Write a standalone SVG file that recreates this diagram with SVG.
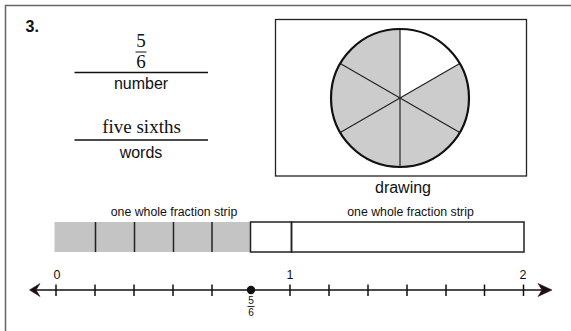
<svg xmlns="http://www.w3.org/2000/svg" width="571" height="331" viewBox="0 0 571 331">
<style>
.sans{font-family:"Liberation Sans",Arial,sans-serif;fill:#111}
.serif{font-family:"Liberation Serif","Times New Roman",serif;fill:#111}
.ln{stroke:#111;stroke-width:1.3;fill:none}
.tick{stroke:#111;stroke-width:1.5}
.strip{stroke:#222;stroke-width:1.5}
</style>
<rect width="571" height="331" fill="#fff"/>
<g id="frame"><path d="M5.5 331 V5.5 H571" fill="none" stroke="#666" stroke-width="1.5"/></g>
<g id="label3"><text x="25.5" y="32" class="sans" font-size="16" font-weight="bold">3.</text></g>
<g id="number">
<text x="141" y="46.5" class="serif" font-size="19" text-anchor="middle">5</text>
<line x1="135.5" y1="52" x2="146.5" y2="52" stroke="#111" stroke-width="1"/>
<text x="141" y="68" class="serif" font-size="19" text-anchor="middle">6</text>
<line x1="74.5" y1="72.5" x2="208" y2="72.5" class="ln"/>
<text x="141" y="89" class="sans" font-size="16" text-anchor="middle">number</text>
</g>
<g id="words">
<text x="141.5" y="133" class="serif" font-size="19" text-anchor="middle">five sixths</text>
<line x1="74.5" y1="140" x2="208" y2="140" class="ln"/>
<text x="141" y="157.5" class="sans" font-size="16" text-anchor="middle">words</text>
</g>
<g id="drawing">
<rect x="275.5" y="19.5" width="251" height="156.5" fill="#fff" stroke="#222" stroke-width="1.3"/>
<path d="M400 98 V29 A69 69 0 0 0 400 167 Z" fill="#ccc"/>
<path d="M400 98 L459.76 63.5 A69 69 0 0 1 400 167 Z" fill="#ccc"/>
<g stroke="#222" stroke-width="1.2">
<line x1="400" y1="29" x2="400" y2="167"/>
<line x1="340.24" y1="63.5" x2="459.76" y2="132.5"/>
<line x1="340.24" y1="132.5" x2="459.76" y2="63.5"/>
</g>
<circle cx="400" cy="98" r="69" fill="none" stroke="#111" stroke-width="2.2"/>
<text x="403" y="192.5" class="sans" font-size="16" text-anchor="middle">drawing</text>
</g>
<g id="strip1">
<text x="174" y="215.5" class="sans" font-size="12.3" text-anchor="middle">one whole fraction strip</text>
<rect x="54.5" y="222" width="196" height="30" fill="#c4c4c4"/>
<g class="strip">
<line x1="95.5" y1="222" x2="95.5" y2="252"/>
<line x1="134.5" y1="222" x2="134.5" y2="252"/>
<line x1="173.5" y1="222" x2="173.5" y2="252"/>
<line x1="212" y1="222" x2="212" y2="252"/>
</g>
<rect x="250.5" y="222" width="41" height="30" fill="none" stroke="#222" stroke-width="1.5"/>
</g>
<g id="strip2">
<text x="410.5" y="215.5" class="sans" font-size="12.3" text-anchor="middle">one whole fraction strip</text>
<rect x="291.5" y="222" width="232.5" height="30" fill="none" stroke="#222" stroke-width="1.5"/>
</g>
<g id="numberline">
<line x1="34" y1="290" x2="547" y2="290" stroke="#111" stroke-width="1.6"/>
<path d="M29.5 290 L40 283.5 L36 290 L40 296.5 Z" fill="#1a1010" stroke="#3a1414" stroke-width="0.6"/>
<path d="M552 290 L538 283.5 L542 290 L538 296.5 Z" fill="#1a1010" stroke="#3a1414" stroke-width="0.6"/>
<g class="tick">
<line x1="56" y1="284.5" x2="56" y2="296"/>
<line x1="95" y1="284.5" x2="95" y2="296"/>
<line x1="134" y1="284.5" x2="134" y2="296"/>
<line x1="173" y1="284.5" x2="173" y2="296"/>
<line x1="212" y1="284.5" x2="212" y2="296"/>
<line x1="290" y1="284.5" x2="290" y2="296"/>
<line x1="329" y1="284.5" x2="329" y2="296"/>
<line x1="368" y1="284.5" x2="368" y2="296"/>
<line x1="407" y1="284.5" x2="407" y2="296"/>
<line x1="446" y1="284.5" x2="446" y2="296"/>
<line x1="484.5" y1="284.5" x2="484.5" y2="296"/>
<line x1="523.5" y1="284.5" x2="523.5" y2="296"/>
</g>
<circle cx="251" cy="290" r="4.2" fill="#111"/>
<text x="57" y="278.5" class="sans" font-size="12.5" text-anchor="middle">0</text>
<text x="290" y="278.5" class="sans" font-size="12.5" text-anchor="middle">1</text>
<text x="523" y="278.5" class="sans" font-size="12.5" text-anchor="middle">2</text>
<text x="251" y="304" class="sans" font-size="10" text-anchor="middle">5</text>
<line x1="247.5" y1="306.5" x2="254.5" y2="306.5" stroke="#111" stroke-width="0.9"/>
<text x="251" y="315.5" class="sans" font-size="10" text-anchor="middle">6</text>
</g>
</svg>
